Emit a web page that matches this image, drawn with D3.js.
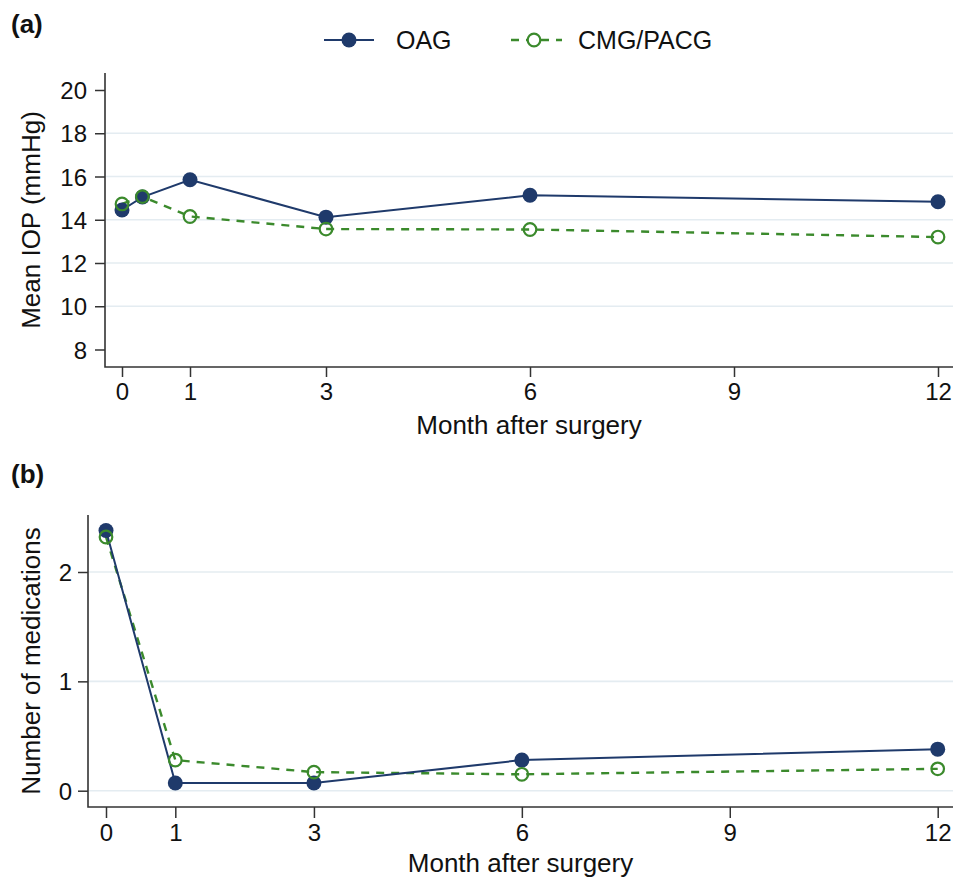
<!DOCTYPE html>
<html>
<head>
<meta charset="utf-8">
<script src="https://cdn.jsdelivr.net/npm/d3@7"></script>
<style>
  body { margin: 0; background: #fff; }
  svg text { font-family: "Liberation Sans", Arial, Helvetica, sans-serif; fill: #111; }
</style>
</head>
<body>
<div id="chart"></div>
<script>
// panel (a): mean IOP
const iopMonths = [0, 0.3, 1, 3, 6, 12];
const iopOAG = [14.45, 15.05, 15.85, 14.12, 15.13, 14.83];
const iopCMG = [14.73, 15.07, 14.15, 13.57, 13.55, 13.2];
const iopTicks = [8, 10, 12, 14, 16, 18, 20];

// panel (b): number of medications
const medMonths = [0, 1, 3, 6, 12];
const medOAG = [2.38, 0.07, 0.07, 0.28, 0.38];
const medCMG = [2.32, 0.28, 0.17, 0.15, 0.20];
const medTicks = [0, 1, 2];

const monthTicks = [0, 1, 3, 6, 9, 12];
const seriesNames = ['OAG', 'CMG/PACG'];

const navy = '#1f3a6b';
const green = '#3b8a2c';
const gridColor = '#e4ecf1';
const axisColor = '#333';

const width = 953, height = 879;
const svg = d3.select('#chart').append('svg')
  .attr('width', width)
  .attr('height', height);

function drawPanel(cfg) {
  const g = svg.append('g');
  const x = d3.scaleLinear().domain([0, 12]).range(cfg.xRange);
  const y = d3.scaleLinear().domain(cfg.yDomain).range(cfg.yRange);

  // grid
  g.selectAll('.grid')
    .data(cfg.grid)
    .join('line')
    .attr('x1', cfg.left + 1).attr('x2', cfg.right)
    .attr('y1', d => y(d)).attr('y2', d => y(d))
    .attr('stroke', gridColor)
    .attr('stroke-width', 1.6);

  // y axis
  const yAxis = g.append('g')
    .attr('transform', `translate(${cfg.left},0)`)
    .call(d3.axisLeft(y).tickValues(cfg.yTicks).tickSize(10)
      .tickPadding(cfg.yPad).tickFormat(d3.format('d')));
  yAxis.select('.domain').remove();
  yAxis.selectAll('.tick line').attr('stroke', axisColor).attr('stroke-width', 1.5);
  yAxis.selectAll('.tick text')
    .style('font-size', '24px')
    .attr('dy', '0.36em');

  // x axis
  const xAxis = g.append('g')
    .attr('transform', `translate(0,${cfg.bottom})`)
    .call(d3.axisBottom(x).tickValues(monthTicks).tickSize(cfg.xTick).tickPadding(cfg.xPad));
  xAxis.select('.domain').remove();
  xAxis.selectAll('.tick line').attr('stroke', axisColor).attr('stroke-width', 1.5);
  xAxis.selectAll('.tick text').style('font-size', '24px');

  // frame lines
  g.append('path')
    .attr('d', `M${cfg.left},${cfg.top}V${cfg.bottom}H${cfg.right}`)
    .attr('fill', 'none')
    .attr('stroke', axisColor)
    .attr('stroke-width', 1.6);

  // titles
  g.append('text')
    .attr('x', (cfg.left + cfg.right) / 2)
    .attr('y', cfg.xTitleY)
    .attr('text-anchor', 'middle')
    .style('font-size', '26px')
    .text('Month after surgery');
  g.append('text')
    .attr('transform', `translate(${cfg.yTitleX},${(cfg.top + cfg.bottom) / 2}) rotate(-90)`)
    .attr('text-anchor', 'middle')
    .style('font-size', '26px')
    .text(cfg.yTitle);
  g.append('text')
    .attr('x', 11).attr('y', cfg.tagY)
    .style('font-size', '26px')
    .style('font-weight', 'bold')
    .text(cfg.tag);

  const line = d3.line().x(d => x(d[0])).y(d => y(d[1]));
  const cmg = cfg.months.map((m, i) => [m, cfg.cmg[i]]);
  const oag = cfg.months.map((m, i) => [m, cfg.oag[i]]);

  g.append('path')
    .datum(cmg)
    .attr('d', line)
    .attr('fill', 'none')
    .attr('stroke', green)
    .attr('stroke-width', 2.4)
    .attr('stroke-dasharray', '8,7');
  g.append('path')
    .datum(oag)
    .attr('d', line)
    .attr('fill', 'none')
    .attr('stroke', navy)
    .attr('stroke-width', 2);

  g.selectAll('.oag')
    .data(oag)
    .join('circle')
    .attr('cx', d => x(d[0])).attr('cy', d => y(d[1]))
    .attr('r', 7.5)
    .attr('fill', navy);
  g.selectAll('.cmg')
    .data(cmg)
    .join('circle')
    .attr('cx', d => x(d[0])).attr('cy', d => y(d[1]))
    .attr('r', 6.3)
    .attr('fill', 'none')
    .attr('stroke', green)
    .attr('stroke-width', 2.2);
}

drawPanel({
  tag: '(a)', tagY: 33,
  months: iopMonths, oag: iopOAG, cmg: iopCMG,
  xRange: [122, 938], yDomain: [8, 20], yRange: [349.5, 90],
  left: 105, right: 953, top: 73, bottom: 367,
  yTicks: iopTicks, grid: [10, 12, 14, 16, 18],
  yPad: 8, xTick: 10, xPad: 6,
  xTitleY: 434, yTitleX: 40, yTitle: 'Mean IOP (mmHg)'
});

drawPanel({
  tag: '(b)', tagY: 483,
  months: medMonths, oag: medOAG, cmg: medCMG,
  xRange: [106, 937.7], yDomain: [0, 2], yRange: [790.7, 572],
  left: 88, right: 953, top: 515, bottom: 807,
  yTicks: medTicks, grid: [0, 1, 2],
  yPad: 6, xTick: 11, xPad: 6,
  xTitleY: 872, yTitleX: 40, yTitle: 'Number of medications'
});

// legend
const legend = svg.append('g');
legend.append('line')
  .attr('x1', 324).attr('x2', 374).attr('y1', 40).attr('y2', 40)
  .attr('stroke', navy).attr('stroke-width', 2);
legend.append('circle')
  .attr('cx', 349).attr('cy', 40).attr('r', 7.5).attr('fill', navy);
legend.append('text')
  .attr('x', 396).attr('y', 48.5)
  .style('font-size', '25px')
  .text(seriesNames[0]);
legend.append('line')
  .attr('x1', 511).attr('x2', 562).attr('y1', 40).attr('y2', 40)
  .attr('stroke', green).attr('stroke-width', 2.4)
  .attr('stroke-dasharray', '8,7');
legend.append('circle')
  .attr('cx', 534).attr('cy', 40).attr('r', 6.3)
  .attr('fill', '#fff').attr('stroke', green).attr('stroke-width', 2.2);
legend.append('text')
  .attr('x', 578).attr('y', 48.5)
  .style('font-size', '25px')
  .text(seriesNames[1]);
</script>
</body>
</html>
